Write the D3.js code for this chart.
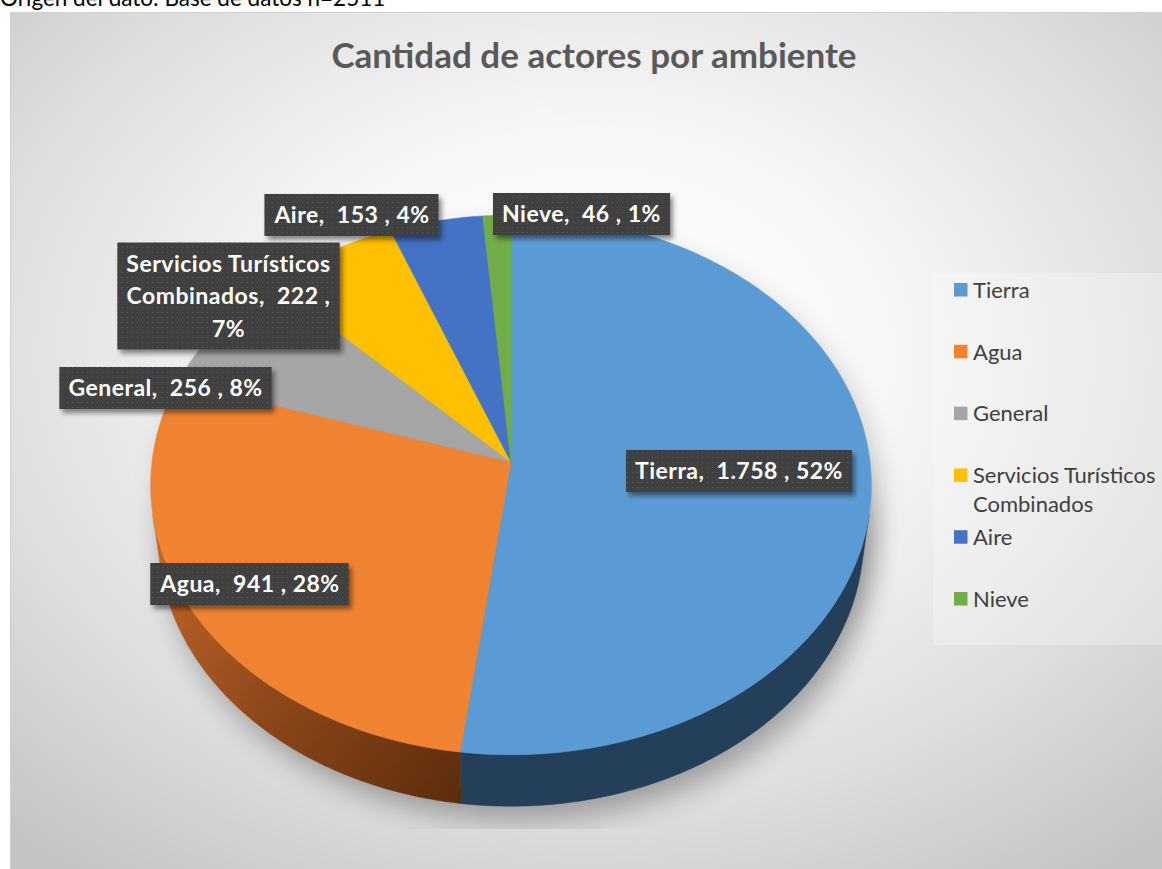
<!DOCTYPE html>
<html><head><meta charset="utf-8">
<script src="https://cdn.jsdelivr.net/npm/d3@7"></script>
<style>
body{margin:0;background:#fff;}
svg{display:block;font-family:Lato,'Open Sans',sans-serif;}
text{white-space:pre;}
</style>
</head><body><svg id="chart" width="1162" height="869"></svg>
<script>
// ---------- data ----------
const categories = ["Tierra","Agua","General","Servicios Turísticos Combinados","Aire","Nieve"];
const values = [1758, 941, 256, 222, 153, 46];
const percentLabels = [52, 28, 8, 7, 4, 1];
const topColors = ["#5b9bd5","#f08331","#a5a5a5","#ffc000","#4472c4","#70ad47"];
const sideColors = ["#243f59","url(#aguaSide)","#5f5f5f","#8f6c00","#26437a","#3f6628"];
const sourceNote = "Origen del dato: Base de datos n=2511";
const chartTitle = "Cantidad de actores por ambiente";

// ---------- setup ----------
const W = 1162, H = 869;
const svg = d3.select("#chart");
const defs = svg.append("defs");

const bg = defs.append("radialGradient").attr("id","bgGrad")
  .attr("cx","0.5").attr("cy","0.4").attr("r","0.75");
[[0,"#ffffff"],[0.35,"#f7f7f7"],[0.7,"#dedede"],[1,"#c4c4c4"]]
  .forEach(([o,c])=>bg.append("stop").attr("offset",o).attr("stop-color",c));

const ag = defs.append("linearGradient").attr("id","aguaSide")
  .attr("gradientUnits","userSpaceOnUse").attr("x1",150).attr("y1",560).attr("x2",470).attr("y2",800);
[[0,"#c0662a"],[0.5,"#8a4519"],[1,"#5a2c0c"]]
  .forEach(([o,c])=>ag.append("stop").attr("offset",o).attr("stop-color",c));

const pat = defs.append("pattern").attr("id","dots").attr("width",5).attr("height",5)
  .attr("patternUnits","userSpaceOnUse");
pat.append("rect").attr("width",5).attr("height",5).attr("fill","#3f3f3f");
pat.append("rect").attr("x",2).attr("y",2).attr("width",1).attr("height",1).attr("fill","#595959");

const ds = defs.append("filter").attr("id","boxShadow").attr("x","-20%").attr("y","-30%").attr("width","150%").attr("height","170%");
ds.append("feDropShadow").attr("dx",3).attr("dy",4).attr("stdDeviation",2.5)
  .attr("flood-color","#000").attr("flood-opacity",0.45);

const blur = defs.append("filter").attr("id","pieShadow").attr("x","-30%").attr("y","-30%").attr("width","160%").attr("height","160%");
blur.append("feGaussianBlur").attr("stdDeviation",14);

defs.append("clipPath").attr("id","plotClip").append("rect")
  .attr("x",128).attr("y",60).attr("width",800).attr("height",769);

// source note (partly cut off at top, as in the original)
svg.append("text").attr("x",0).attr("y",6).attr("font-size",22.5)
  .attr("fill","#000").text(sourceNote);

// chart area
svg.append("rect").attr("x",10.5).attr("y",12.5).attr("width",W-10).attr("height",H-12)
  .attr("fill","url(#bgGrad)").attr("stroke","#d0d0d0");

// legend background
svg.append("rect").attr("x",933).attr("y",273).attr("width",229).attr("height",372)
  .attr("fill","#ffffff").attr("opacity",0.25);

// title
svg.append("text").attr("x",594).attr("y",68).attr("text-anchor","middle")
  .attr("font-size",35).attr("font-weight","bold").attr("fill","#595959").text(chartTitle);

// ---------- 3D pie projection ----------
const cx = 511, cy = 462, R = 359, sinP = 0.746, cosP = Math.sqrt(1 - sinP*sinP), D = 2809, depth = 82;
function proj(a, w){
  const u = R*Math.sin(a), v = R*Math.cos(a);
  const Y = -v*sinP - w*cosP;
  const Z = v*cosP - w*sinP;
  const s = D/(D + Z);
  return [cx + u*s, cy + Y*s];
}
const step = Math.PI/360;
function arcPts(a0, a1, w){
  const n = Math.max(2, Math.ceil(Math.abs(a1 - a0)/step));
  return d3.range(n + 1).map(i => proj(a0 + (a1 - a0)*i/n, w));
}
const line = d3.line();

const pie = d3.pie().sort(null).value(d => d);
const arcs = pie(values);

// shadow
const shadowG = svg.append("g").attr("clip-path","url(#plotClip)");
shadowG.append("path")
  .attr("d", line(arcPts(0, 2*Math.PI, -depth).map(([x,y])=>[x+8,y+14])) + "Z")
  .attr("fill","#000").attr("opacity",0.3).attr("filter","url(#pieShadow)");
shadowG.append("path")
  .attr("d", line(arcPts(0, 2*Math.PI, 0).map(([x,y])=>[x+8,y+14])) + "Z")
  .attr("fill","#000").attr("opacity",0.18).attr("filter","url(#pieShadow)");

// sides (front-facing part of the outer wall)
const aVisMin = Math.acos(-R/(D*cosP)), aVisMax = 2*Math.PI - aVisMin;
const sideG = svg.append("g");
arcs.forEach((d, i) => {
  const s = Math.max(d.startAngle, aVisMin), e = Math.min(d.endAngle, aVisMax);
  if (e <= s) return;
  const pts = arcPts(s, e, 0).concat(arcPts(e, s, -depth));
  sideG.append("path").attr("d", line(pts) + "Z").attr("fill", sideColors[i])
    .attr("stroke", sideColors[i]).attr("stroke-width", 0.5);
});

// tops
const topG = svg.append("g");
arcs.forEach((d, i) => {
  const pts = [[cx, cy]].concat(arcPts(d.startAngle, d.endAngle, 0));
  topG.append("path").attr("d", line(pts) + "Z").attr("fill", topColors[i])
    .attr("stroke", topColors[i]).attr("stroke-width", 0.6);
});

// ---------- data labels ----------
const fmt = d3.formatLocale({decimal:",", thousands:".", grouping:[3], currency:["",""]}).format(",d");
const labelLayout = [
  {x:739, y:471, maxW:1e9},
  {x:250, y:584, maxW:1e9},
  {x:165.5, y:388, maxW:1e9},
  {x:228.5, y:296, maxW:218},
  {x:352, y:215, maxW:1e9},
  {x:581.5, y:214, maxW:1e9}
];
const labelFont = 23, lineH = 32.5;
const labG = svg.append("g");
categories.forEach((c, i) => {
  const txt = `${c},  ${fmt(values[i])} , ${percentLabels[i]}%`;
  const L = labelLayout[i];
  const g = labG.append("g");
  const rect = g.append("rect").attr("fill","url(#dots)").attr("filter","url(#boxShadow)");
  const t = g.append("text").attr("font-size", labelFont).attr("font-weight","bold")
    .attr("letter-spacing", 0.5).attr("fill","#fff").attr("text-anchor","middle");
  const words = txt.split(" ");
  const lines = [];
  let cur = "";
  const probe = t.append("tspan");
  words.forEach(w => {
    const trial = cur === "" ? w : cur + " " + w;
    probe.text(trial);
    if (probe.node().getComputedTextLength() > L.maxW && cur !== "") { lines.push(cur); cur = w; }
    else cur = trial;
  });
  lines.push(cur);
  probe.remove();
  const y0 = L.y - (lines.length - 1)*lineH/2;
  lines.forEach((ln, k) => {
    t.append("tspan").attr("x", L.x).attr("y", y0 + k*lineH).attr("dy","0.35em").text(ln.trim());
  });
  const bb = t.node().getBBox();
  const padX = 9;
  rect.attr("x", bb.x - padX).attr("y", y0 - 21)
    .attr("width", bb.width + 2*padX)
    .attr("height", (lines.length-1)*lineH + 42);
});

// ---------- legend ----------
const legG = svg.append("g");
const legY = d3.scaleLinear().domain([0, categories.length - 1]).range([290, 599]);
categories.forEach((c, i) => {
  const y = legY(i);
  legG.append("rect").attr("x",954).attr("y",y - 7).attr("width",13.5).attr("height",13.5).attr("fill",topColors[i]);
  const t = legG.append("text").attr("font-size",22).attr("fill","#404040");
  const words = c.split(" ");
  const lines = []; let cur = "";
  const probe = t.append("tspan");
  words.forEach(w => {
    const trial = cur === "" ? w : cur + " " + w;
    probe.text(trial);
    if (probe.node().getComputedTextLength() > 186 && cur !== "") { lines.push(cur); cur = w; }
    else cur = trial;
  });
  lines.push(cur); probe.remove();
  lines.forEach((ln, k) => t.append("tspan").attr("x",973).attr("y", y + k*29).attr("dy","0.35em").text(ln));
});
</script>
</body></html>
